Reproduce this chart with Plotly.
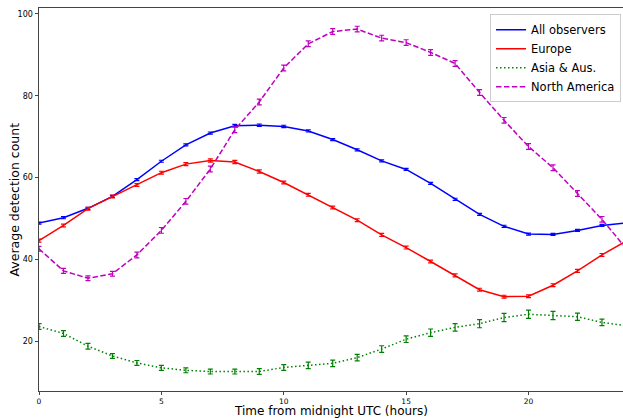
import plotly.graph_objects as go

hours = list(range(25))

all_obs = [48.9, 50.2, 52.5, 55.4, 59.5, 64.0, 68.0, 70.9, 72.7, 72.8, 72.5, 71.4, 69.3, 66.8, 64.1, 62.0, 58.6, 54.7, 51.0, 48.1, 46.2, 46.1, 47.1, 48.3, 48.9]
all_err = [0.25, 0.25, 0.25, 0.25, 0.25, 0.25, 0.25, 0.25, 0.3, 0.3, 0.3, 0.25, 0.25, 0.25, 0.25, 0.25, 0.25, 0.25, 0.25, 0.25, 0.25, 0.25, 0.25, 0.25, 0.25]

europe = [44.6, 48.3, 52.4, 55.4, 58.2, 61.2, 63.3, 64.2, 63.8, 61.5, 58.8, 55.8, 52.7, 49.6, 46.0, 42.9, 39.5, 36.1, 32.6, 30.9, 31.0, 33.7, 37.2, 41.1, 44.5]
europe_err = [0.35, 0.35, 0.35, 0.35, 0.35, 0.35, 0.35, 0.4, 0.4, 0.4, 0.35, 0.35, 0.35, 0.35, 0.35, 0.35, 0.35, 0.35, 0.35, 0.35, 0.35, 0.35, 0.35, 0.35, 0.35]

asia = [23.6, 21.9, 18.8, 16.4, 14.7, 13.5, 12.9, 12.6, 12.6, 12.6, 13.6, 14.1, 14.6, 16.0, 18.1, 20.5, 22.1, 23.4, 24.3, 25.8, 26.6, 26.3, 26.0, 24.6, 23.8]
asia_err = [0.7, 0.7, 0.7, 0.6, 0.6, 0.6, 0.6, 0.6, 0.6, 0.7, 0.7, 0.8, 0.8, 0.8, 0.8, 0.8, 0.9, 0.9, 1.0, 1.0, 1.0, 1.0, 0.9, 0.8, 0.7]

namerica = [42.6, 37.2, 35.4, 36.5, 41.1, 47.1, 54.2, 62.1, 71.7, 78.5, 86.8, 92.7, 95.7, 96.3, 94.1, 93.0, 90.6, 87.9, 80.8, 74.0, 67.6, 62.4, 56.1, 49.8, 42.6]
namerica_err = [0.6, 0.6, 0.6, 0.6, 0.7, 0.7, 0.7, 0.7, 0.7, 0.7, 0.7, 0.7, 0.7, 0.7, 0.7, 0.7, 0.7, 0.7, 0.7, 0.7, 0.7, 0.7, 0.7, 0.7, 0.6]

x_ticks = [0, 5, 10, 15, 20]
y_ticks = [20, 40, 60, 80, 100]

series = [
    ("All observers", all_obs, all_err, "#0000ff", "solid"),
    ("Europe", europe, europe_err, "#ff0000", "solid"),
    ("Asia & Aus.", asia, asia_err, "#008000", "1.5px,2.5px"),
    ("North America", namerica, namerica_err, "#bf00bf", "5.5px,2.4px"),
]

fig = go.Figure()
for name, vals, errs, col, dash in series:
    fig.add_trace(go.Scatter(
        x=hours, y=vals, name=name, mode="lines",
        line=dict(color=col, width=1.5, dash=dash),
        error_y=dict(type="data", array=errs, visible=True, color=col, thickness=1.2, width=2.5),
    ))

axis_col = "#444444"
fig.update_layout(
    width=623, height=418,
    margin=dict(l=39, r=0, t=8, b=27),
    plot_bgcolor="white", paper_bgcolor="white",
    font=dict(family="DejaVu Sans", color="black"),
    showlegend=True,
    legend=dict(
        x=0.9966, xanchor="right", y=0.984, yanchor="top",
        bgcolor="rgba(255,255,255,0.8)", bordercolor="#cccccc", borderwidth=1,
        font=dict(size=11.5, family="DejaVu Sans"),
        tracegroupgap=0, itemwidth=30,
    ),
    xaxis=dict(
        range=[0, 23.86], tickvals=x_ticks, ticktext=[str(v) for v in x_ticks],
        showgrid=False, zeroline=False, showline=True, linecolor=axis_col, linewidth=1,
        mirror=True, ticks="outside", ticklen=2.5, tickcolor=axis_col,
        tickfont=dict(size=7.5, family="DejaVu Sans"),
        automargin=False,
    ),
    yaxis=dict(
        range=[7.84, 101.46], tickvals=y_ticks, ticktext=[str(v) for v in y_ticks],
        showgrid=False, zeroline=False, showline=True, linecolor=axis_col, linewidth=1,
        ticks="outside", ticklen=3.5, tickcolor=axis_col,
        tickfont=dict(size=8, family="DejaVu Sans"),
        automargin=False,
    ),
    annotations=[
        dict(text="Time from midnight UTC (hours)", xref="paper", yref="paper",
             x=0.5, y=-0.0525, xanchor="center", yanchor="middle", showarrow=False,
             font=dict(size=12, family="DejaVu Sans")),
        dict(text="Average detection count", xref="paper", yref="paper",
             x=-0.0428, y=0.5, xanchor="center", yanchor="middle", showarrow=False,
             textangle=-90, font=dict(size=12.5, family="DejaVu Sans")),
    ],
)

fig.write_html("out.html")
